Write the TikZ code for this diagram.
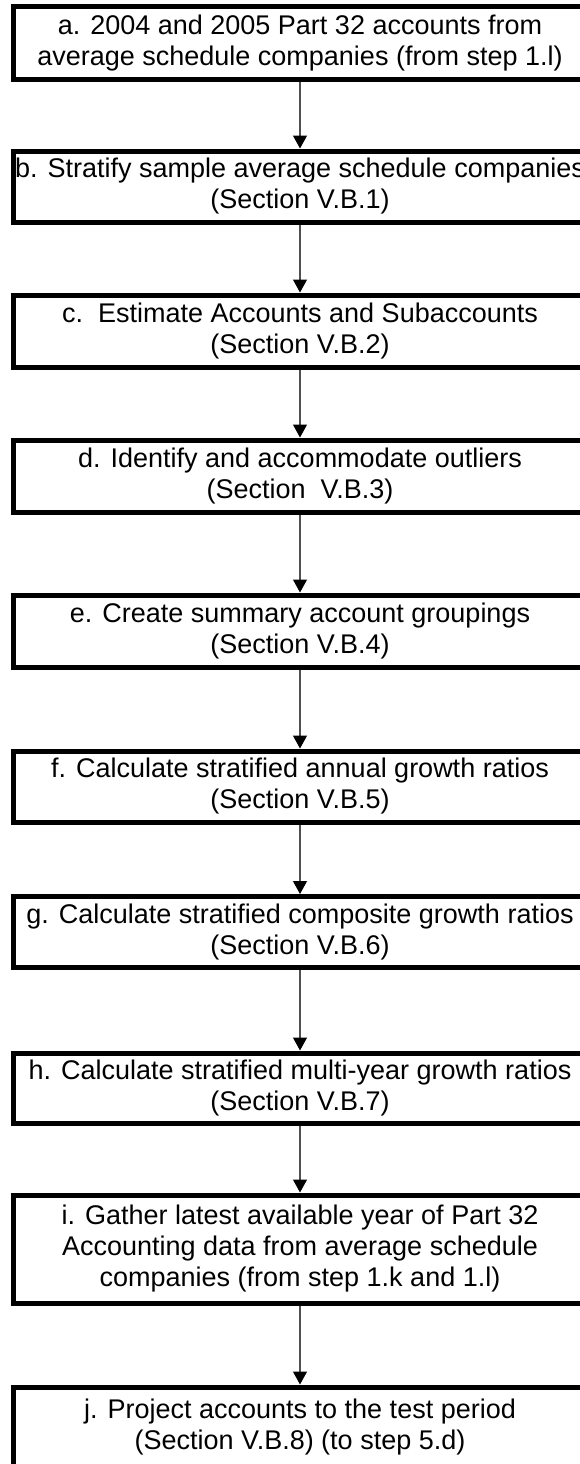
\documentclass[tikz,border=0pt]{standalone}
\usepackage{fontspec}
\setmainfont{Liberation Sans}
\usetikzlibrary{arrows.meta}
\begin{document}
\begin{tikzpicture}[x=1pt,y=1pt,
  stepbox/.style={draw=black, line width=5pt, rectangle, fill=white,
    minimum width=574pt, inner sep=0pt, align=center,
    font=\fontsize{27}{31}\selectfont},
  conn/.style={draw={rgb,255:red,80;green,80;blue,80}, line width=1.2pt,
    -{Triangle[width=14pt,length=13pt,black]}, shorten >=0pt}]
\useasboundingbox (0,0) rectangle (580,-1464);
\fill[white] (0,0) rectangle (580,-1464);
\clip (0,0) rectangle (580,-1464);
\node[stepbox, minimum height=72pt] (a) at (300,-43) {a. 2004 and 2005 Part 32 accounts from\\average schedule companies (from step 1.l)};
\node[stepbox, minimum height=71pt] (b) at (300,-186.5) {b. Stratify sample average schedule companies\\(Section V.B.1)};
\node[stepbox, minimum height=72pt] (c) at (300,-331) {c.\ \ Estimate Accounts and Subaccounts\\(Section V.B.2)};
\node[stepbox, minimum height=72pt] (d) at (300,-476) {d. Identify and accommodate outliers\\(Section\ \ V.B.3)};
\node[stepbox, minimum height=72pt] (e) at (300,-631) {e. Create summary account groupings\\(Section V.B.4)};
\node[stepbox, minimum height=71pt] (f) at (300,-786.5) {f. Calculate stratified annual growth ratios\\(Section V.B.5)};
\node[stepbox, minimum height=71pt] (g) at (300,-932) {g. Calculate stratified composite growth ratios\\(Section V.B.6)};
\node[stepbox, minimum height=70pt] (h) at (300,-1088) {h. Calculate stratified multi-year growth ratios\\(Section V.B.7)};
\node[stepbox, minimum height=108pt] (i) at (300,-1249) {i. Gather latest available year of Part 32\\Accounting data from average schedule\\companies (from step 1.k and 1.l)};
\node[stepbox, minimum height=80pt] (j) at (300,-1427) {j. Project accounts to the test period\\(Section V.B.8) (to step 5.d)};
\foreach \u/\v in {a/b,b/c,c/d,d/e,e/f,f/g,g/h,h/i,i/j}
  \draw[conn] (\u.south) -- (\v.north);
\end{tikzpicture}
\end{document}
